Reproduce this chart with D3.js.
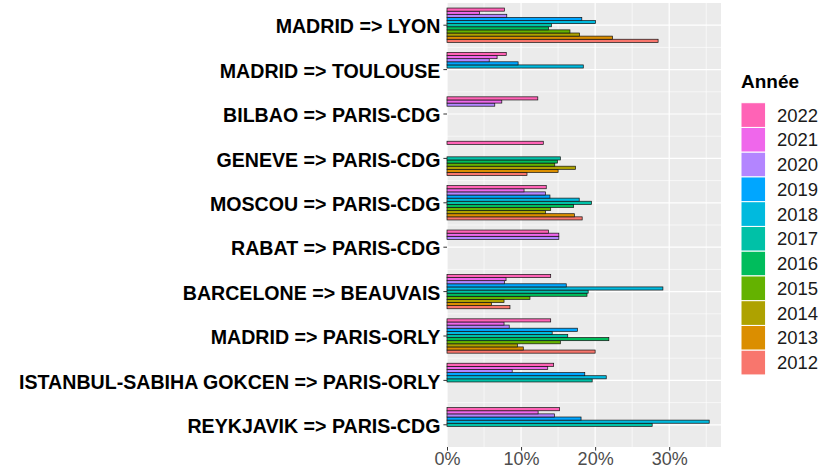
<!DOCTYPE html>
<html>
<head>
<meta charset="utf-8">
<script src="https://cdn.jsdelivr.net/npm/d3@7"></script>
<style>
  body { margin: 0; background: #fff; }
  svg { display: block; font-family: "Liberation Sans", Arial, sans-serif; }
</style>
</head>
<body>
<svg id="chart" width="833" height="469"></svg>
<script>
// years (2012 -> 2022) and one share array per route, null = no data
const years = [2012, 2013, 2014, 2015, 2016, 2017, 2018, 2019, 2020, 2021, 2022];
const yearColors = ['#F8766D', '#DB8E00', '#AEA200', '#64B200', '#00BD5C', '#00C1A7',
  '#00BADE', '#00A6FF', '#B385FF', '#EF67EB', '#FF63B6'];

const routes = [
  'MADRID => LYON',
  'MADRID => TOULOUSE',
  'BILBAO => PARIS-CDG',
  'GENEVE => PARIS-CDG',
  'MOSCOU => PARIS-CDG',
  'RABAT => PARIS-CDG',
  'BARCELONE => BEAUVAIS',
  'MADRID => PARIS-ORLY',
  'ISTANBUL-SABIHA GOKCEN => PARIS-ORLY',
  'REYKJAVIK => PARIS-CDG'
];

const madridLyon = [28.5, 22.35, 17.9, 16.6, 13.7, 14.1, 20.05, 18.2, 8.07, 4.4, 7.75];
const madridToulouse = [null, null, null, null, null, null, 18.4, 9.6, 5.7, 6.76, 8.0];
const bilbaoCdg = [null, null, null, null, null, null, null, null, 6.45, 7.4, 12.26];
const geneveCdg = [10.8, 15.0, 17.35, 14.55, 14.9, 15.3, null, null, null, null, 13.0];
const moscouCdg = [18.25, 17.2, 13.3, 14.0, 17.1, 19.5, 17.85, 13.9, 13.3, 10.4, 13.4];
const rabatCdg = [null, null, null, null, null, null, null, null, 15.1, 15.1, 13.7];
const barceloneBeauvais = [8.5, 6.0, 7.7, 11.2, 18.9, 19.06, 29.15, 16.1, 7.75, 7.97, 14.0];
const madridOrly = [20.0, 10.3, 9.5, 15.3, 21.85, 16.3, 14.2, 17.6, 8.4, 7.7, 14.0];
const istanbulOrly = [null, null, null, null, null, 19.6, 21.5, 18.6, 8.8, 13.6, 14.4];
const reykjavikCdg = [null, null, null, null, null, 27.7, 35.4, 18.1, 14.5, 12.3, 15.2];

const shares = [madridLyon, madridToulouse, bilbaoCdg, geneveCdg, moscouCdg, rabatCdg,
  barceloneBeauvais, madridOrly, istanbulOrly, reykjavikCdg];

const xTicks = [0, 10, 20, 30];
const xMinor = [5, 15, 25, 35];

// flat table for the bars
const rows = [];
routes.forEach((r, i) => {
  years.forEach((y, j) => {
    if (shares[i][j] != null) rows.push({ route: r, year: y, value: shares[i][j] });
  });
});

const svg = d3.select('#chart');
const panel = { left: 447, right: 721, top: 3, bottom: 447 };

const x = d3.scaleLinear()
  .domain([0, d3.max(rows, d => d.value) * 1.045])
  .range([panel.left, panel.right]);

const y = d3.scaleBand()
  .domain(routes)
  .range([panel.top, panel.bottom])
  .padding(0);

const groupW = y.bandwidth() * 0.773;
const inner = d3.scaleBand()
  .domain(years.slice().reverse())
  .range([0, groupW]);

const color = d3.scaleOrdinal().domain(years).range(yearColors);

// panel background
svg.append('rect')
  .attr('x', panel.left).attr('y', panel.top)
  .attr('width', panel.right - panel.left).attr('height', panel.bottom - panel.top)
  .attr('fill', '#EBEBEB');

// grid
const grid = svg.append('g');
grid.selectAll('.minx').data(xMinor).join('line')
  .attr('x1', d => x(d)).attr('x2', d => x(d))
  .attr('y1', panel.top).attr('y2', panel.bottom)
  .attr('stroke', '#fff').attr('stroke-width', 0.6);
grid.selectAll('.majx').data(xTicks).join('line')
  .attr('x1', d => x(d)).attr('x2', d => x(d))
  .attr('y1', panel.top).attr('y2', panel.bottom)
  .attr('stroke', '#fff').attr('stroke-width', 1.2);
grid.selectAll('.midy').data(routes.slice(1)).join('line')
  .attr('x1', panel.left).attr('x2', panel.right)
  .attr('y1', d => y(d)).attr('y2', d => y(d))
  .attr('stroke', '#fff').attr('stroke-width', 0.6);
grid.selectAll('.majy').data(routes).join('line')
  .attr('x1', panel.left).attr('x2', panel.right)
  .attr('y1', d => y(d) + y.bandwidth() / 2).attr('y2', d => y(d) + y.bandwidth() / 2)
  .attr('stroke', '#fff').attr('stroke-width', 1.2);

// bars
svg.append('g').selectAll('rect').data(rows).join('rect')
  .attr('x', x(0))
  .attr('y', d => y(d.route) + (y.bandwidth() - groupW) / 2 + inner(d.year))
  .attr('width', d => x(d.value) - x(0))
  .attr('height', inner.bandwidth())
  .attr('fill', d => color(d.year))
  .attr('stroke', '#111')
  .attr('stroke-width', 0.7);

// y axis
const yAxis = svg.append('g')
  .attr('transform', `translate(${panel.left},0)`)
  .call(d3.axisLeft(y).tickSize(3.6).tickPadding(3));
yAxis.select('.domain').remove();
yAxis.selectAll('line').attr('stroke', '#333').attr('stroke-width', 1);
yAxis.selectAll('text')
  .attr('font-family', '"Liberation Sans", Arial, sans-serif')
  .attr('font-size', 19.6).attr('font-weight', 'bold').attr('fill', '#000')
  .attr('dy', '0.42em');

// x axis
const xAxis = svg.append('g')
  .attr('transform', `translate(0,${panel.bottom})`)
  .call(d3.axisBottom(x).tickValues(xTicks).tickFormat(d => d + '%').tickSize(3.6).tickPadding(1.5));
xAxis.select('.domain').remove();
xAxis.selectAll('line').attr('stroke', '#333').attr('stroke-width', 1);
xAxis.selectAll('text')
  .attr('font-family', '"Liberation Sans", Arial, sans-serif')
  .attr('font-size', 18).attr('fill', '#4D4D4D');

// legend
const legend = svg.append('g').attr('transform', 'translate(741,0)');
legend.append('text')
  .attr('x', 0).attr('y', 88)
  .attr('font-size', 19).attr('font-weight', 'bold').attr('fill', '#000')
  .text('Année');
const keyH = 24.75;
const keys = legend.selectAll('g.key').data(years.slice().reverse()).join('g')
  .attr('class', 'key')
  .attr('transform', (d, i) => `translate(0,${102.7 + i * keyH})`);
keys.append('rect')
  .attr('width', 24.6).attr('height', keyH)
  .attr('fill', d => color(d))
  .attr('stroke', '#fff').attr('stroke-width', 1);
keys.append('text')
  .attr('x', 36).attr('y', keyH / 2).attr('dy', '0.35em')
  .attr('font-size', 18.5).attr('fill', '#1A1A1A')
  .text(d => d);
</script>
</body>
</html>
